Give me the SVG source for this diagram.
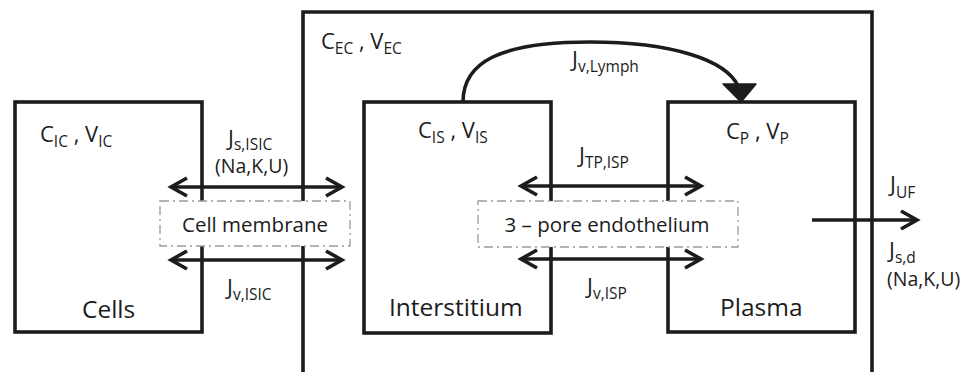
<svg xmlns="http://www.w3.org/2000/svg" width="974" height="372" viewBox="0 0 974 372">
<style>
.box{fill:none;stroke:#1c1c1c;stroke-width:3.6;stroke-linejoin:miter}
.dash{fill:#fff;stroke:#9a9a9a;stroke-width:1.3;stroke-dasharray:9 4 2 4}
.arr{fill:none;stroke:#1c1c1c;stroke-width:3.6}
.head{fill:#1c1c1c;stroke:#1c1c1c;stroke-width:1.5;stroke-linejoin:round}
text{font-family:"Open Sans","Noto Sans",sans-serif;fill:#1c1c1c}
.lbl{font-size:22px}
.mem{font-size:20.5px}
.big{font-size:24.5px}
.sub{font-size:15.5px}
.nk{font-size:19.5px}
</style>
<defs>
<marker id="chev" markerUnits="userSpaceOnUse" markerWidth="40" markerHeight="40" viewBox="-25 -20 40 40" refX="0" refY="0" orient="auto-start-reverse" overflow="visible">
<path d="M-16,-9 L0,0 L-16,9" fill="none" stroke="#1c1c1c" stroke-width="3.6" stroke-linejoin="miter"/>
</marker>
</defs>
<rect width="974" height="372" fill="#fff"/>

<g id="extracellular">
<path class="box" d="M303,372 V12 H872 V372"/>
<text class="lbl" x="321" y="49">C<tspan class="sub" dy="5">EC</tspan><tspan dy="-5"> , V</tspan><tspan class="sub" dy="5">EC</tspan></text>
</g>

<g id="cells">
<rect class="box" x="15" y="102" width="187" height="230"/>
<text class="lbl" x="40" y="142">C<tspan class="sub" dy="5">IC</tspan><tspan dy="-5"> , V</tspan><tspan class="sub" dy="5">IC</tspan></text>
<text class="big" x="82" y="318">Cells</text>
</g>

<g id="interstitium">
<rect class="box" x="364" y="102" width="187" height="231"/>
<text class="lbl" x="418" y="138">C<tspan class="sub" dy="5">IS</tspan><tspan dy="-5"> , V</tspan><tspan class="sub" dy="5">IS</tspan></text>
<text class="big" x="389" y="316">Interstitium</text>
</g>

<g id="plasma">
<rect class="box" x="668" y="102" width="187" height="230"/>
<text class="lbl" x="726" y="139">C<tspan class="sub" dy="5">P</tspan><tspan dy="-5"> , V</tspan><tspan class="sub" dy="5">P</tspan></text>
<text class="big" x="720" y="316">Plasma</text>
</g>

<g id="cell-membrane">
<rect class="dash" x="160" y="201" width="190" height="45"/>
<text class="mem" x="255" y="232" text-anchor="middle">Cell membrane</text>
</g>

<g id="endothelium">
<rect class="dash" x="478" y="201" width="260" height="46"/>
<text class="mem" x="607" y="232" text-anchor="middle">3 – pore endothelium</text>
</g>

<g id="connectors">
<path class="arr" d="M171,187 H342" marker-start="url(#chev)" marker-end="url(#chev)"/>
<path class="arr" d="M171,260 H342" marker-start="url(#chev)" marker-end="url(#chev)"/>
<path class="arr" d="M521,186 H701" marker-start="url(#chev)" marker-end="url(#chev)"/>
<path class="arr" d="M521,259 H701" marker-start="url(#chev)" marker-end="url(#chev)"/>
<path class="arr" d="M812,220 H917" marker-end="url(#chev)"/>
<path class="arr" d="M463,102 C463,62 500,42 590,42 C672,42 726,60 738,86"/>
<polygon class="head" points="723,84 756,84 741,102"/>
<text class="lbl" x="228" y="146">J<tspan class="sub" dy="4">s,ISIC</tspan><tspan class="nk" x="215" dy="23">(Na,K,U)</tspan></text>
<text class="lbl" x="227" y="295">J<tspan class="sub" dy="5">v,ISIC</tspan></text>
<text class="lbl" x="572" y="67">J<tspan class="sub" dy="5">v,Lymph</tspan></text>
<text class="lbl" x="579" y="163">J<tspan class="sub" dy="5">TP,ISP</tspan></text>
<text class="lbl" x="587" y="294">J<tspan class="sub" dy="5">v,ISP</tspan></text>
<text class="lbl" x="890" y="192">J<tspan class="sub" dy="6">UF</tspan></text>
<text class="lbl" x="889" y="258">J<tspan class="sub" dy="5">s,d</tspan><tspan class="nk" x="887" dy="23">(Na,K,U)</tspan></text>
</g>
</svg>
